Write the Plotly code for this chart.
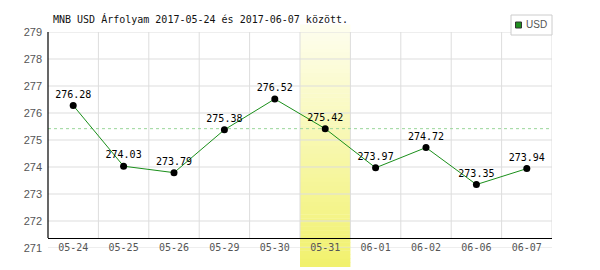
import plotly.graph_objects as go

# ---- data ----
dates = ["05-24", "05-25", "05-26", "05-29", "05-30", "05-31", "06-01", "06-02", "06-06", "06-07"]
usd = [276.28, 274.03, 273.79, 275.38, 276.52, 275.42, 273.97, 274.72, 273.35, 273.94]
y_ticks = [271, 272, 273, 274, 275, 276, 277, 278, 279]
highlight = "05-31"
title_text = "MNB USD Árfolyam 2017-05-24 és 2017-06-07 között."
series_name = "USD"

# ---- layout constants (pixels) ----
W, H = 600, 270
ML, MR, MT, MB = 48, 48, 32, 22
PH = H - MT - MB  # plot height in px
YMIN, YMAX = y_ticks[0], y_ticks[-1]


def py(pix):
    """pixel row -> paper y fraction"""
    return (H - MB - pix) / PH


def px(pix):
    return (pix - ML) / (W - ML - MR)


xs = list(range(len(dates)))
hi = dates.index(highlight)
axis_pix = 238
axis_val = YMIN + (H - MB - axis_pix) / PH * (YMAX - YMIN)

shapes = []
grid = "#dddddd"
# horizontal grid
for v in y_ticks:
    shapes.append(dict(type="line", xref="x", yref="y", x0=-0.5, x1=len(dates) - 0.5, y0=v, y1=v,
                       line=dict(color=grid, width=1), layer="below"))
# vertical grid at category boundaries
for i in range(len(dates)):
    xb = i + 0.5
    shapes.append(dict(type="line", xref="x", yref="y", x0=xb, x1=xb, y0=axis_val, y1=YMAX,
                       line=dict(color=grid, width=1), layer="below"))
# reference dashed line at highlighted value
shapes.append(dict(type="line", xref="x", yref="y", x0=-0.5, x1=len(dates) - 0.5,
                   y0=usd[hi], y1=usd[hi], line=dict(color="#99d699", width=1, dash="3px,3px"),
                   layer="below"))
# gradient highlight band
top_pix, bot_pix = 25, 267
N = 60
c0 = (254, 254, 240)
c1 = (241, 241, 108)
for k in range(N):
    t = (k + 0.5) / N
    p0 = top_pix + (bot_pix - top_pix) * k / N
    p1 = top_pix + (bot_pix - top_pix) * (k + 1) / N
    col = tuple(round(c0[j] + (c1[j] - c0[j]) * t) for j in range(3))
    shapes.append(dict(type="rect", xref="x", yref="paper", x0=hi - 0.5, x1=hi + 0.5,
                       y0=py(p1), y1=py(p0) + 0.002, fillcolor="rgb(%d,%d,%d)" % col,
                       line=dict(width=0), layer="below"))
# left axis line
shapes.append(dict(type="line", xref="paper", yref="y", x0=0, x1=0, y0=axis_val, y1=YMAX,
                   line=dict(color="black", width=1.2), layer="above"))
# custom legend
shapes.append(dict(type="rect", xref="paper", yref="paper", x0=px(511), x1=px(552),
                   y0=py(35), y1=py(15), line=dict(color="#cccccc", width=1),
                   fillcolor="white", layer="above"))
shapes.append(dict(type="rect", xref="paper", yref="paper", x0=px(515.5), x1=px(521.5),
                   y0=py(28), y1=py(22), line=dict(color="#333333", width=1),
                   fillcolor="#1f8f1f", layer="above"))

fig = go.Figure()
fig.add_trace(go.Scatter(
    x=xs, y=usd, mode="lines+markers+text",
    text=["%.2f" % v for v in usd], textposition="top center",
    textfont=dict(family="DejaVu Sans Mono", size=10, color="black"),
    line=dict(color="#1a8f1a", width=1),
    marker=dict(color="black", size=7),
    showlegend=False, cliponaxis=False,
))

fig.update_layout(
    width=W, height=H,
    margin=dict(l=ML, r=MR, t=MT, b=MB, pad=0),
    paper_bgcolor="white", plot_bgcolor="white",
    showlegend=False,
    title=dict(text=title_text, x=53 / W, xref="container", xanchor="left",
               y=1 - 19 / H, yref="container", yanchor="middle",
               font=dict(family="DejaVu Sans Mono", size=10, color="#111111")),
    xaxis=dict(
        range=[-0.5, len(dates) - 0.5], tickmode="array", tickvals=xs, ticktext=dates,
        showgrid=False, zeroline=False, showline=True, linecolor="black", linewidth=1.2,
        anchor="free", position=py(axis_pix), ticks="",
        tickfont=dict(family="DejaVu Sans Mono", size=10, color="#555555"),
    ),
    yaxis=dict(
        range=[YMIN, YMAX], tickmode="array", tickvals=y_ticks,
        showgrid=False, zeroline=False, showline=False, ticks="",
        ticklabelstandoff=5,
        tickfont=dict(family="Liberation Sans", size=11, color="#555555"),
    ),
    shapes=shapes,
    annotations=[dict(text=series_name, xref="paper", yref="paper", x=px(524), y=py(25),
                      xanchor="left", yanchor="middle", showarrow=False,
                      font=dict(family="Liberation Sans", size=10, color="#555555"))],
)

fig.write_html("out.html")
